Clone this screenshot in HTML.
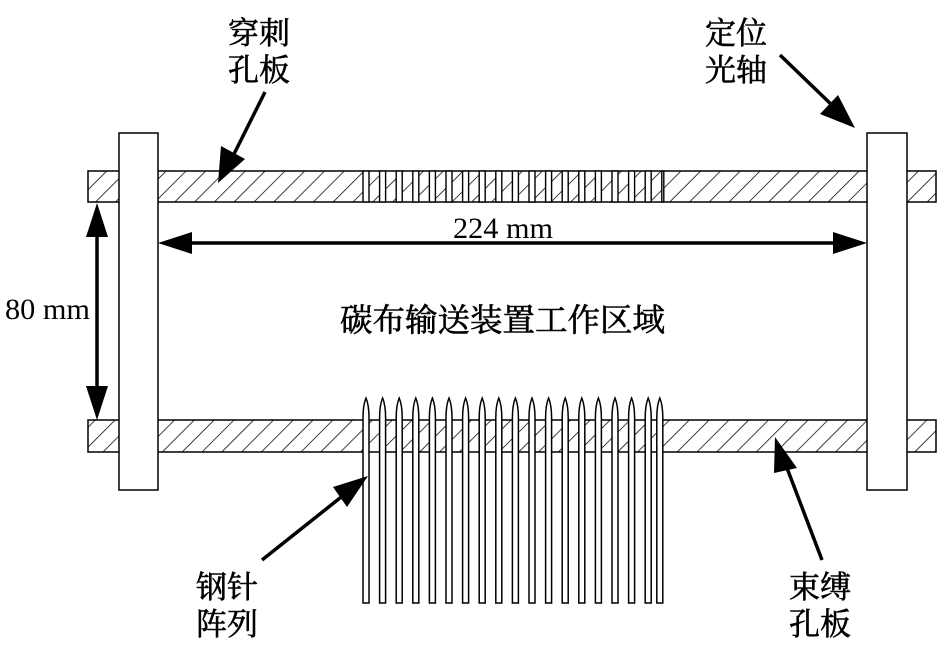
<!DOCTYPE html>
<html><head><meta charset="utf-8"><style>
body{margin:0;background:#fff}
svg{display:block}
text{font-family:"Liberation Serif","Noto Serif CJK SC",serif;fill:#000}
.cj{font-family:"Liberation Serif","Noto Serif CJK SC",serif;font-weight:normal;stroke:#000;stroke-width:0.6px}
</style></head><body>
<svg width="950" height="669" viewBox="0 0 950 669" xmlns="http://www.w3.org/2000/svg">
<defs>
<pattern id="h" patternUnits="userSpaceOnUse" width="14" height="14" patternTransform="rotate(45)">
<line x1="0" y1="0" x2="0" y2="14" stroke="#000" stroke-width="1.5"/>
</pattern>
</defs>
<rect x="88" y="171" width="848" height="31" fill="url(#h)" stroke="#000" stroke-width="1.5"/>
<rect x="88" y="420" width="848" height="32" fill="url(#h)" stroke="#000" stroke-width="1.5"/>
<g fill="#fff" stroke="#000" stroke-width="1.4">
<rect x="363" y="171" width="6" height="31"/><rect x="379.6" y="171" width="6" height="31"/><rect x="396.2" y="171" width="6" height="31"/><rect x="412.8" y="171" width="6" height="31"/><rect x="429.4" y="171" width="6" height="31"/><rect x="446" y="171" width="6" height="31"/><rect x="462.6" y="171" width="6" height="31"/><rect x="479.2" y="171" width="6" height="31"/><rect x="495.8" y="171" width="6" height="31"/><rect x="512.4" y="171" width="6" height="31"/><rect x="529" y="171" width="6" height="31"/><rect x="545.6" y="171" width="6" height="31"/><rect x="562.2" y="171" width="6" height="31"/><rect x="578.8" y="171" width="6" height="31"/><rect x="595.4" y="171" width="6" height="31"/><rect x="612" y="171" width="6" height="31"/><rect x="628.6" y="171" width="6" height="31"/><rect x="645.2" y="171" width="6" height="31"/><rect x="661.8" y="171" width="2" height="31"/>
</g>
<g fill="#fff" stroke="#000" stroke-width="1.5">
<path d="M363 603 V418 Q363 405 366 398 Q369 405 369 418 V603 Z"/>
<path d="M379.6 603 V418 Q379.6 405 382.6 398 Q385.6 405 385.6 418 V603 Z"/>
<path d="M396.2 603 V418 Q396.2 405 399.2 398 Q402.2 405 402.2 418 V603 Z"/>
<path d="M412.8 603 V418 Q412.8 405 415.8 398 Q418.8 405 418.8 418 V603 Z"/>
<path d="M429.4 603 V418 Q429.4 405 432.4 398 Q435.4 405 435.4 418 V603 Z"/>
<path d="M446 603 V418 Q446 405 449 398 Q452 405 452 418 V603 Z"/>
<path d="M462.6 603 V418 Q462.6 405 465.6 398 Q468.6 405 468.6 418 V603 Z"/>
<path d="M479.2 603 V418 Q479.2 405 482.2 398 Q485.2 405 485.2 418 V603 Z"/>
<path d="M495.8 603 V418 Q495.8 405 498.8 398 Q501.8 405 501.8 418 V603 Z"/>
<path d="M512.4 603 V418 Q512.4 405 515.4 398 Q518.4 405 518.4 418 V603 Z"/>
<path d="M529 603 V418 Q529 405 532 398 Q535 405 535 418 V603 Z"/>
<path d="M545.6 603 V418 Q545.6 405 548.6 398 Q551.6 405 551.6 418 V603 Z"/>
<path d="M562.2 603 V418 Q562.2 405 565.2 398 Q568.2 405 568.2 418 V603 Z"/>
<path d="M578.8 603 V418 Q578.8 405 581.8 398 Q584.8 405 584.8 418 V603 Z"/>
<path d="M595.4 603 V418 Q595.4 405 598.4 398 Q601.4 405 601.4 418 V603 Z"/>
<path d="M612 603 V418 Q612 405 615 398 Q618 405 618 418 V603 Z"/>
<path d="M628.6 603 V418 Q628.6 405 631.6 398 Q634.6 405 634.6 418 V603 Z"/>
<path d="M645.2 603 V418 Q645.2 405 648.2 398 Q651.2 405 651.2 418 V603 Z"/>
<path d="M656.8 603 V418 Q656.8 405 659.8 398 Q662.8 405 662.8 418 V603 Z"/>
</g>
<rect x="119" y="133" width="39" height="357" fill="#fff" stroke="#000" stroke-width="1.5"/>
<rect x="867" y="133" width="40" height="357" fill="#fff" stroke="#000" stroke-width="1.5"/>
<g stroke="#000" stroke-width="3.5" fill="none">
<line x1="97" y1="235" x2="97" y2="388"/>
<line x1="190" y1="243" x2="835" y2="243"/>
<line x1="265" y1="92" x2="232" y2="158"/>
<line x1="780" y1="55" x2="835" y2="108"/>
<line x1="262" y1="560" x2="345" y2="494"/>
<line x1="822" y1="560" x2="787" y2="468"/>
</g>
<g fill="#000">
<polygon points="97,203 86,237 108,237"/>
<polygon points="97,420 86,386 108,386"/>
<polygon points="158,243 192,232 192,254"/>
<polygon points="867,243 833,232 833,254"/>
<polygon points="218,183 221,146 245,159"/>
<polygon points="855,128 820,114 838,95"/>
<polygon points="368,476 347,507 333,487"/>
<polygon points="775,437 797,468 774,473"/>
</g>
<text x="453" y="238" font-size="30" textLength="100" lengthAdjust="spacingAndGlyphs">224 mm</text>
<text x="5" y="319" font-size="30" textLength="85" lengthAdjust="spacingAndGlyphs">80 mm</text>
<text class="cj" x="340" y="331" font-size="32" textLength="325" lengthAdjust="spacingAndGlyphs">碳布输送装置工作区域</text>
<g class="cj" font-size="31">
<text x="228" y="44">穿刺</text><text x="228" y="81">孔板</text>
<text x="705" y="44">定位</text><text x="705" y="81">光轴</text>
<text x="196" y="598">钢针</text><text x="196" y="635">阵列</text>
<text x="789" y="598">束缚</text><text x="789" y="635">孔板</text>
</g>
</svg>
</body></html>
